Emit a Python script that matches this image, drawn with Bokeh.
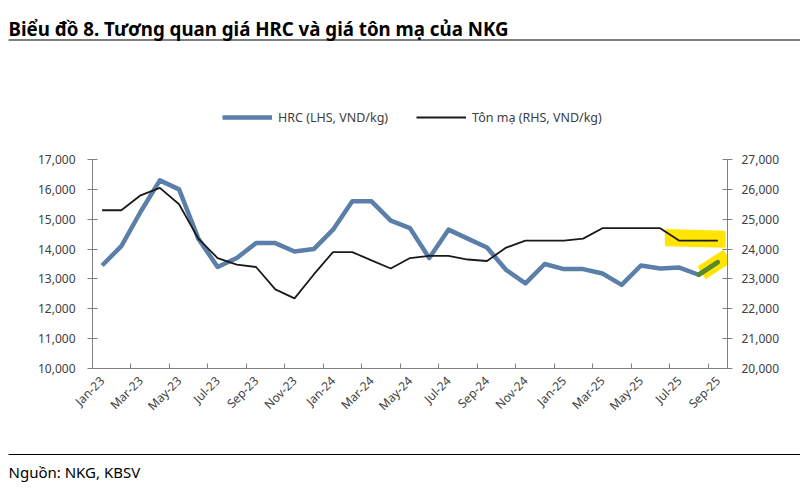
import math
from bokeh.plotting import figure
from bokeh.layouts import column
from bokeh.core.properties import value
from bokeh.models import (Range1d, LinearAxis, FixedTicker, NumeralTickFormatter,
                          Legend, LegendItem)
from bokeh.embed import file_html
from bokeh.resources import INLINE

# ---------------- data ----------------
months = ["Jan-23", "Feb-23", "Mar-23", "Apr-23", "May-23", "Jun-23", "Jul-23", "Aug-23",
          "Sep-23", "Oct-23", "Nov-23", "Dec-23",
          "Jan-24", "Feb-24", "Mar-24", "Apr-24", "May-24", "Jun-24", "Jul-24", "Aug-24",
          "Sep-24", "Oct-24", "Nov-24", "Dec-24",
          "Jan-25", "Feb-25", "Mar-25", "Apr-25", "May-25", "Jun-25", "Jul-25", "Aug-25",
          "Sep-25"]
hrc = [13450, 14100, 15250, 16300, 16000, 14350, 13400, 13700, 14200, 14200, 13920, 14000,
       14650, 15600, 15600, 14950, 14700, 13700, 14650, 14350, 14050, 13300, 12850, 13500,
       13330, 13330, 13180, 12800, 13450, 13350, 13380, 13140, 13560]
ton = [25300, 25300, 25800, 26050, 25500, 24350, 23700, 23480, 23400, 22650, 22350, 23150,
       23900, 23900, 23620, 23350, 23700, 23770, 23770, 23650, 23600, 24050, 24280, 24280,
       24280, 24350, 24700, 24700, 24700, 24700, 24280, 24280, 24280]
lhs_ticks = [10000, 11000, 12000, 13000, 14000, 15000, 16000, 17000]
rhs_ticks = [20000, 21000, 22000, 23000, 24000, 25000, 26000, 27000]
title_text = "Biểu đồ 8. Tương quan giá HRC và giá tôn mạ của NKG"
source_text = "Nguồn: NKG, KBSV"
hrc_label = "HRC (LHS, VND/kg)"
ton_label = "Tôn mạ (RHS, VND/kg)"
highlight_from = "Jul-25"

# ---------------- style ----------------
FONT = "Noto Sans"
BLUE = "#5b7fa8"
BLACK = "#1a1a1a"
GREEN = "#5a8a25"
YELLOW = "#ffe500"
AXIS = "#808080"
TXT = "#404040"
HRC_W, TON_W = 4.5, 1.8

W = 800
HEAD_H, MAIN_H, FOOT_H = 140, 308, 54
FL, FR, FT, FB = 92, 73, 19, 80


def blank_fig(h):
    f = figure(width=W, height=h, output_backend="svg", toolbar_location=None,
               x_range=Range1d(0, W), y_range=Range1d(h, 0),
               x_axis_location=None, y_axis_location=None,
               min_border=0, min_border_left=0, min_border_right=0,
               min_border_top=0, min_border_bottom=0, frame_align=False)
    f.outline_line_color = None
    f.grid.visible = False
    f.background_fill_color = "white"
    f.border_fill_color = "white"
    return f


# ---------------- header: title, rule, legend ----------------
head = blank_fig(HEAD_H)
head.text(x=[8], y=[27.5], text=[title_text], text_font=value(FONT),
          text_font_style="bold", text_font_size="18.7px", text_color="black",
          text_baseline="alphabetic", text_align="left")
head.segment(x0=[8], y0=[39.5], x1=[W], y1=[39.5], line_color="black", line_width=1.2)

# legend keys (styled like the chart's series; their single point lies off-canvas)
k_hrc = head.line(x=[-50], y=[-50], line_color=BLUE, line_width=HRC_W)
k_ton = head.line(x=[-50], y=[-50], line_color=BLACK, line_width=TON_W)
legend = Legend(items=[LegendItem(label=hrc_label, renderers=[k_hrc]),
                       LegendItem(label=ton_label, renderers=[k_ton])],
                location=(222, 13), orientation="horizontal",
                glyph_width=50, glyph_height=20, label_standoff=6, spacing=28,
                padding=0, margin=0, border_line_color=None, background_fill_alpha=0,
                label_text_font=FONT, label_text_font_size="12.5px", label_text_color=TXT)
head.add_layout(legend, "center")

# ---------------- main chart ----------------
x = list(range(len(months)))

p = figure(width=W, height=MAIN_H, output_backend="svg", toolbar_location=None,
           x_range=Range1d(-0.5, len(months) - 0.5),
           y_range=Range1d(lhs_ticks[0], lhs_ticks[-1]),
           min_border_left=FL, min_border_right=FR,
           min_border_top=FT, min_border_bottom=FB, frame_align=False)
p.extra_y_ranges = {"rhs": Range1d(rhs_ticks[0], rhs_ticks[-1])}
p.outline_line_color = None
p.grid.visible = False
p.background_fill_color = "white"
p.border_fill_color = "white"

xa = p.xaxis[0]
label_idx = x[::2]
xa.ticker = FixedTicker(ticks=label_idx, minor_ticks=[i + 1.5 for i in label_idx[:-1]])
xa.major_label_overrides = {i: months[i] for i in label_idx}
xa.major_tick_in = 0
xa.major_tick_out = 0
xa.minor_tick_in = 5
xa.minor_tick_out = 0
xa.minor_tick_line_color = AXIS
xa.axis_line_color = AXIS
xa.major_label_orientation = math.pi / 4
xa.major_label_standoff = 10
xa.major_label_text_font = FONT
xa.major_label_text_font_size = "12px"
xa.major_label_text_color = TXT

ya = p.yaxis[0]
ya.ticker = FixedTicker(ticks=lhs_ticks)
ya.formatter = NumeralTickFormatter(format="0,0")
ya.major_tick_in = 5
ya.major_tick_out = 5
ya.minor_tick_in = 0
ya.minor_tick_out = 0
ya.major_tick_line_color = AXIS
ya.axis_line_color = AXIS
ya.major_label_standoff = 12
ya.major_label_text_font = FONT
ya.major_label_text_font_size = "12px"
ya.major_label_text_color = TXT

ra = LinearAxis(y_range_name="rhs", ticker=FixedTicker(ticks=rhs_ticks),
                formatter=NumeralTickFormatter(format="0,0"))
ra.major_tick_in = 5
ra.major_tick_out = 5
ra.minor_tick_in = 0
ra.minor_tick_out = 0
ra.major_tick_line_color = AXIS
ra.axis_line_color = AXIS
ra.major_label_standoff = 9
ra.major_label_text_font = FONT
ra.major_label_text_font_size = "12px"
ra.major_label_text_color = TXT
p.add_layout(ra, "right")

# highlight behind the galvanized-steel line (last months)
h0 = months.index(highlight_from)
last = len(months) - 1
base = ton[-1]
p.patch([h0 - 0.7, last + 0.35, last + 0.35, h0 - 0.7],
        [base + 360, base + 300, base - 200, base - 150],
        y_range_name="rhs", fill_color=YELLOW, line_color=YELLOW, line_width=2)

# highlight behind the last HRC segment
xa0, xa1 = x[-2], x[-1]
ya0, ya1 = hrc[-2], hrc[-1]
t0, t1 = 0.15, 1.5
p.line([xa0 + (xa1 - xa0) * t0, xa0 + (xa1 - xa0) * t1],
       [ya0 + (ya1 - ya0) * t0, ya0 + (ya1 - ya0) * t1],
       line_color=YELLOW, line_width=15, line_cap="butt")

p.line(x, hrc, line_color=BLUE, line_width=HRC_W, line_join="round")
p.line(x[-2:], hrc[-2:], line_color=GREEN, line_width=HRC_W, line_cap="round")
p.line(x, ton, y_range_name="rhs", line_color=BLACK, line_width=TON_W)

# ---------------- footer ----------------
foot = blank_fig(FOOT_H)
foot.segment(x0=[8], y0=[6], x1=[W], y1=[6], line_color="black", line_width=1.2)
foot.text(x=[8], y=[23.5], text=[source_text], text_font=value(FONT),
          text_font_size="15px", text_color="black",
          text_baseline="alphabetic", text_align="left")

layout = column(head, p, foot, spacing=0)
open("out.html", "w").write(file_html(layout, INLINE))
